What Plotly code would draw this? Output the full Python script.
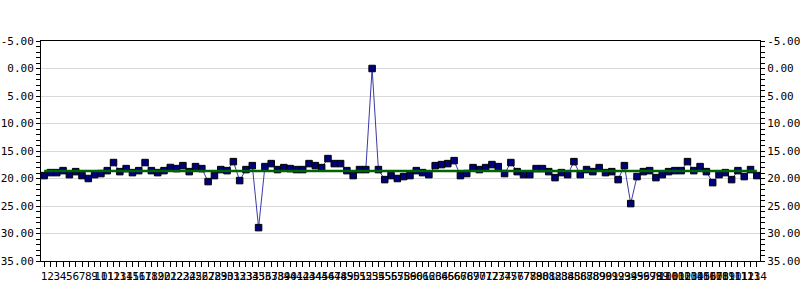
import plotly.graph_objects as go

labels = [str(i) for i in range(1, 115)]
values = [
    19.47, 18.93, 18.93, 18.57, 19.30, 18.75, 19.47, 20.00, 19.30, 19.10,
    18.57, 17.10, 18.75, 18.20, 18.93, 18.57, 17.10, 18.57, 18.93, 18.57,
    18.00, 18.20, 17.66, 18.75, 17.84, 18.20, 20.56, 19.47, 18.38, 18.57,
    16.93, 20.38, 18.38, 17.66, 28.93, 17.84, 17.29, 18.38, 18.02, 18.20,
    18.38, 18.38, 17.29, 17.66, 18.02, 16.38, 17.29, 17.29, 18.57, 19.47,
    18.38, 18.38, 0.00, 18.38, 20.20, 19.47, 20.00, 19.65, 19.47, 18.57,
    18.93, 19.30, 17.66, 17.47, 17.29, 16.75, 19.47, 19.10, 18.02, 18.38,
    18.02, 17.47, 17.84, 19.10, 17.10, 18.75, 19.30, 19.30, 18.20, 18.20,
    18.75, 19.84, 18.93, 19.30, 16.93, 19.30, 18.38, 18.75, 18.02, 18.93,
    18.75, 20.20, 17.66, 24.56, 19.65, 18.75, 18.57, 19.84, 19.30, 18.75,
    18.57, 18.57, 16.93, 18.57, 17.84, 18.75, 20.75, 19.30, 18.93, 20.20,
    18.57, 19.65, 18.38, 19.47,
]
mean_value = 18.64
y_range = [35, -5]
y_ticks = [-5, 0, 5, 10, 15, 20, 25, 30, 35]
y_ticktext = ["%.2f" % v for v in y_ticks]

x = list(range(1, len(labels) + 1))
font = dict(family="DejaVu Sans Mono", size=11, color="black")

fig = go.Figure()
fig.add_trace(go.Scatter(
    x=[x[0], x[-1]], y=[mean_value, mean_value], mode="lines",
    line=dict(color="#006400", width=2.5),
    showlegend=False, hoverinfo="skip", yaxis="y2",
))
fig.add_trace(go.Scatter(
    x=x, y=values, mode="lines+markers",
    line=dict(color="#3a3aa8", width=1),
    marker=dict(symbol="square", size=6.5, color="#00007a",
                line=dict(color="black", width=1)),
    showlegend=False, hoverinfo="skip",
))

axis_common = dict(
    range=y_range, tickmode="array", tickvals=y_ticks, ticktext=y_ticktext,
    ticks="outside", ticklen=4, tickcolor="black", tickwidth=1,
    showline=True, linecolor="black", linewidth=1, automargin=False,
    zeroline=False, tickfont=font,
    minor=dict(tickmode="linear", dtick=1, tick0=0, ticks="outside",
               ticklen=4, tickcolor="black", tickwidth=1, showgrid=False),
)

fig.update_layout(
    width=800, height=300,
    margin=dict(l=41, r=40, t=41, b=39, autoexpand=False),
    plot_bgcolor="white", paper_bgcolor="white",
    xaxis=dict(
        range=[0.5, len(labels) + 0.5], tickmode="array", tickvals=x,
        ticktext=labels, tickangle=0, ticks="outside", ticklen=5,
        tickcolor="black", showline=True, linecolor="black", mirror=True,
        showgrid=False, zeroline=False, tickfont=font, automargin=False,
    ),
    yaxis=dict(showgrid=True, gridcolor="#d9d9d9", gridwidth=1, side="left",
               **axis_common),
    yaxis2=dict(overlaying="y", side="right", showgrid=False, **axis_common),
)

fig.write_html("out.html")
